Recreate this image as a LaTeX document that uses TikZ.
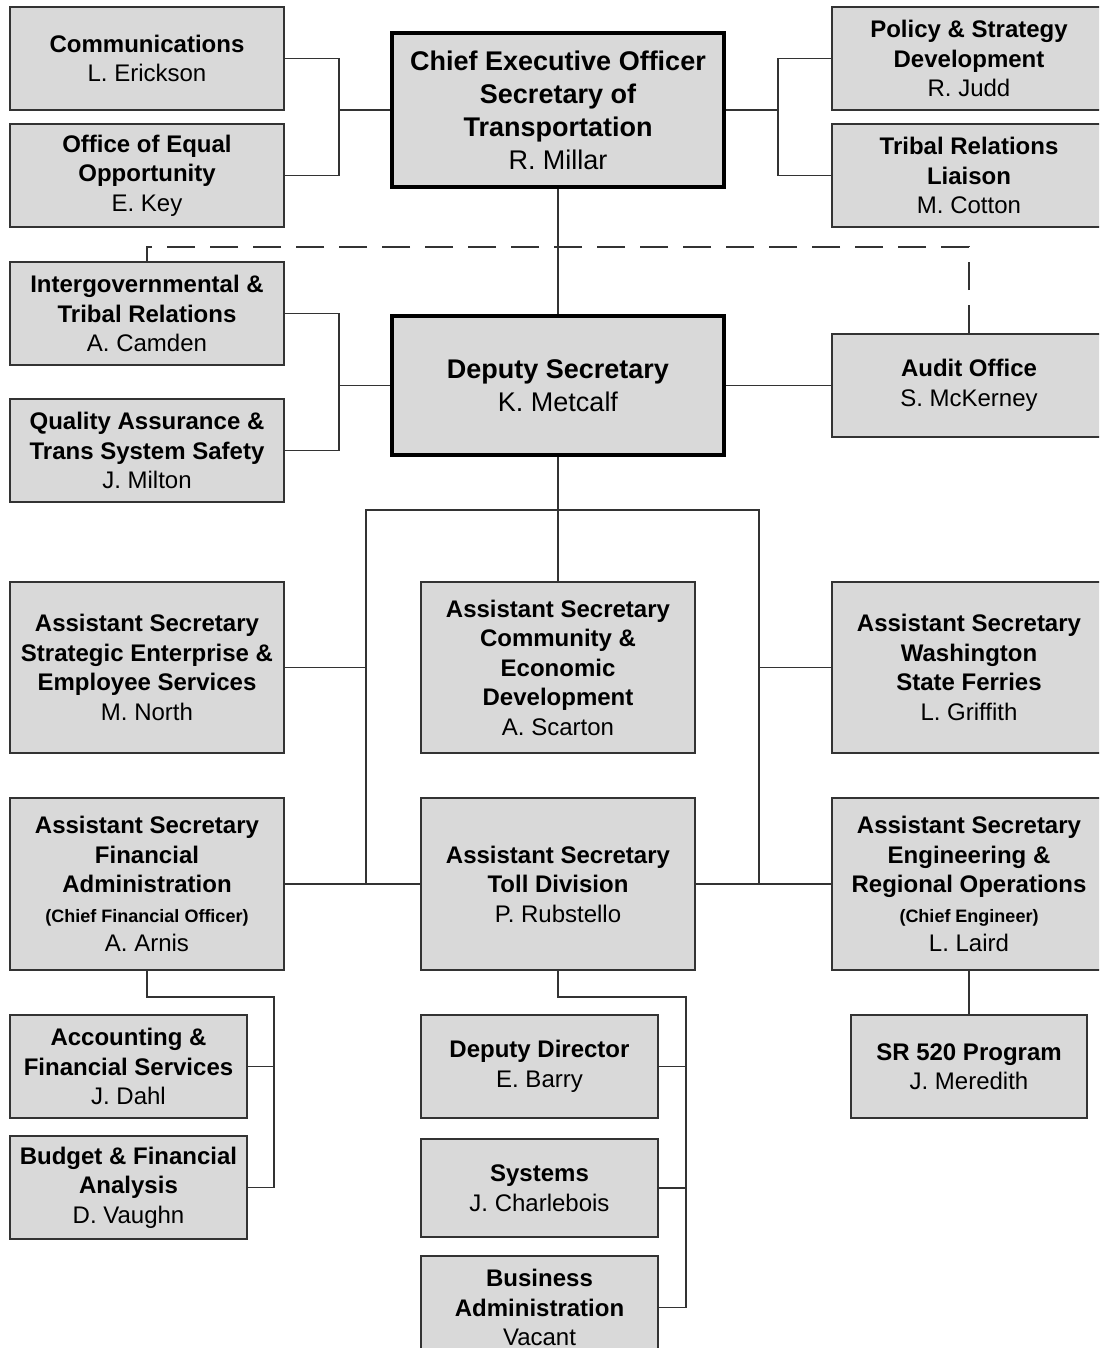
\documentclass[tikz,border=0pt]{standalone}
\usepackage{fontspec}
\setmainfont{Liberation Sans}
\definecolor{boxfill}{HTML}{D9D9D9}
\definecolor{edge}{HTML}{333333}
\newcommand{\who}[1]{{\mdseries #1}}
\newcommand{\aside}[1]{{\fontsize{9}{14.75}\selectfont #1}}
\begin{document}
\begin{tikzpicture}[x=5pt,y=5pt]
	\tikzstyle{every node}+=[inner sep=0pt]
	\tikzstyle{unitbox}=[draw=edge, fill=boxfill, line width=1pt, align=center, minimum width=137pt, minimum height=51.5pt, font=\fontsize{12}{14.75}\selectfont\bfseries]
	\tikzstyle{headbox}=[unitbox, draw=black, line width=2.4pt, minimum width=166pt, font=\fontsize{13.5}{16.5}\selectfont\bfseries]
	\tikzstyle{link}=[draw=edge, line width=0.9pt]
	\tikzstyle{dashlink}=[link, dash pattern=on 14pt off 7.5pt]
	\useasboundingbox (0,0) rectangle (109.9,-134.8);
	\clip (0,0) rectangle (109.9,-134.8);
	\node [unitbox] (comm) at (14.7,-5.85) {Communications\\\who{L. Erickson}};
	\node [unitbox] (eeo) at (14.7,-17.55) {Office of Equal\\Opportunity\\\who{E. Key}};
	\node [headbox, minimum height=77pt] (ceo) at (55.8,-11) {Chief Executive Officer\\Secretary of\\Transportation\\\who{R. Millar}};
	\node [unitbox] (policy) at (96.9,-5.85) {Policy \& Strategy\\Development\\\who{R. Judd}};
	\node [unitbox] (tribal) at (96.9,-17.55) {Tribal Relations\\Liaison\\\who{M. Cotton}};
	\node [unitbox] (igr) at (14.7,-31.35) {Intergovernmental \&\\Tribal Relations\\\who{A. Camden}};
	\node [unitbox] (qa) at (14.7,-45.05) {Quality Assurance \&\\Trans System Safety\\\who{J. Milton}};
	\node [headbox, minimum height=69.5pt] (dep) at (55.8,-38.55) {Deputy Secretary\\\who{K. Metcalf}};
	\node [unitbox] (audit) at (96.9,-38.55) {Audit Office\\\who{S. McKerney}};
	\node [unitbox, minimum height=85.5pt] (ases) at (14.7,-66.75) {Assistant Secretary\\Strategic Enterprise \&\\Employee Services\\\who{M. North}};
	\node [unitbox, minimum height=85.5pt] (ascd) at (55.8,-66.75) {Assistant Secretary\\Community \&\\Economic\\Development\\\who{A. Scarton}};
	\node [unitbox, minimum height=85.5pt] (aswsf) at (96.9,-66.75) {Assistant Secretary\\Washington\\State Ferries\\\who{L. Griffith}};
	\node [unitbox, minimum height=86pt] (asfa) at (14.7,-88.4) {Assistant Secretary\\Financial\\Administration\\\aside{(Chief Financial Officer)}\\\who{A. Arnis}};
	\node [unitbox, minimum height=86pt] (toll) at (55.8,-88.4) {Assistant Secretary\\Toll Division\\\who{P. Rubstello}};
	\node [unitbox, minimum height=86pt] (aseng) at (96.9,-88.4) {Assistant Secretary\\Engineering \&\\Regional Operations\\\aside{(Chief Engineer)}\\\who{L. Laird}};
	\node [unitbox, minimum width=118.5pt] (acct) at (12.85,-106.65) {Accounting \&\\Financial Services\\\who{J. Dahl}};
	\node [unitbox, minimum width=118.5pt] (budget) at (12.85,-118.75) {Budget \& Financial\\Analysis\\\who{D. Vaughn}};
	\node [unitbox, minimum width=118.5pt] (depdir) at (53.95,-106.65) {Deputy Director\\\who{E. Barry}};
	\node [unitbox, minimum width=118.5pt, minimum height=49pt] (systems) at (53.95,-118.8) {Systems\\\who{J. Charlebois}};
	\node [unitbox, minimum width=118.5pt] (busadm) at (53.95,-130.75) {Business\\Administration\\\who{Vacant}};
	\node [unitbox, minimum width=118pt] (sr) at (96.9,-106.65) {SR 520 Program\\\who{J. Meredith}};
	\coordinate (lbus) at (33.9,-11);
	\coordinate (rbus) at (77.8,-11);
	\coordinate (mbus) at (33.9,-38.55);
	\coordinate (dashtop) at (14.7,-24.7);
	\coordinate (lrail) at (36.6,-51);
	\coordinate (rrail) at (75.9,-51);
	\coordinate (lfoot) at (36.6,-88.4);
	\coordinate (rfoot) at (75.9,-88.4);
	\coordinate (fbus) at (27.4,-99.7);
	\coordinate (tbus) at (68.6,-99.7);
	\draw [link] (comm.east) -| (lbus) |- (eeo.east);
	\draw [link] (ceo.west) -- (lbus);
	\draw [link] (policy.west) -| (rbus) |- (tribal.west);
	\draw [link] (ceo.east) -- (rbus);
	\draw [link] (ceo.south) -- (dep.north);
	\draw [dashlink] (audit.north) |- (dashtop) -- (igr.north);
	\draw [link] (igr.east) -| (mbus) |- (qa.east);
	\draw [link] (dep.west) -- (mbus);
	\draw [link] (dep.east) -- (audit.west);
	\draw [link] (dep.south) -- (ascd.north);
	\draw [link] (lfoot) -- (lrail) -- (rrail) -- (rfoot);
	\draw [link] (ases.east) -- (ases.east -| lrail);
	\draw [link] (aswsf.west) -- (aswsf.west -| rrail);
	\draw [link] (asfa.east) -- (toll.west);
	\draw [link] (toll.east) -- (aseng.west);
	\draw [link] (asfa.south) |- (fbus) |- (budget.east);
	\draw [link] (acct.east) -- (acct.east -| fbus);
	\draw [link] (toll.south) |- (tbus) |- (busadm.east);
	\draw [link] (depdir.east) -- (depdir.east -| tbus);
	\draw [link] (systems.east) -- (systems.east -| tbus);
	\draw [link] (aseng.south) -- (sr.north);
\end{tikzpicture}
\end{document}
